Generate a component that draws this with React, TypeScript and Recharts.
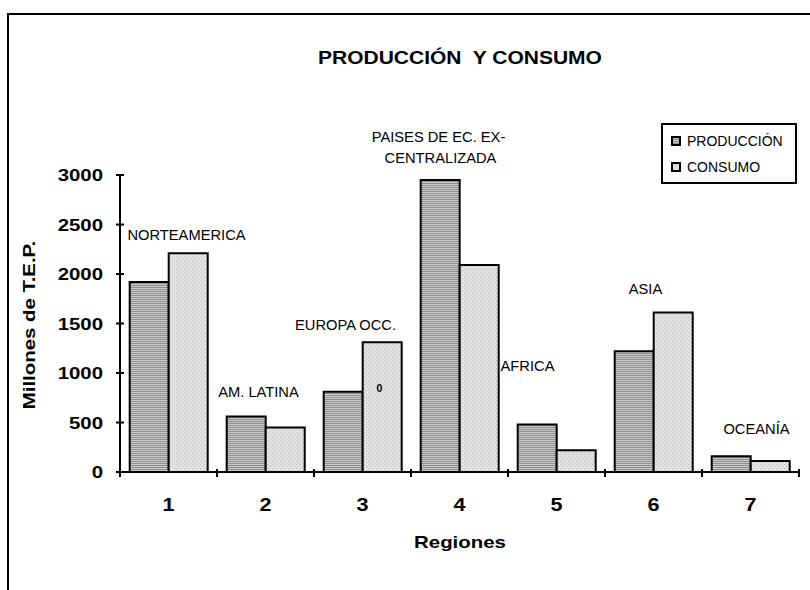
import { BarChart, Bar, XAxis, YAxis, Legend, ReferenceDot } from "recharts";

const REGIONS = ["1", "2", "3", "4", "5", "6", "7"];
const PRODUCCION = [1920, 560, 810, 2950, 480, 1220, 160];
const CONSUMO = [2210, 450, 1310, 2090, 220, 1610, 110];
const Y_TICKS = [0, 500, 1000, 1500, 2000, 2500, 3000];
const SERIES_NAMES = ["PRODUCCIÓN", "CONSUMO"];

// region notes written over the bars (text, region, height in T.E.P.)
const NOTE_TEXT = ["NORTEAMERICA", "AM. LATINA", "EUROPA OCC.", "PAISES DE EC. EX-", "CENTRALIZADA", "AFRICA", "ASIA", "OCEANÍA", "0"];
const NOTE_REGION = ["1", "2", "3", "4", "4", "5", "6", "7", "3"];
const NOTE_VALUE = [2340, 760, 1430, 3330, 3120, 1020, 1800, 385, 810];
// horizontal nudges (px) of each note from the region centre
const NOTE_DX = [18, -7, -17, -21, -19, -29, -8, 6, 17];

const data = REGIONS.map((region, i) => ({
    region,
    produccion: PRODUCCION[i],
    consumo: CONSUMO[i],
}));

const FONT = '"Liberation Sans", Arial, Helvetica, sans-serif';
const W = 810;
const H = 590;
const AXIS_X = 120;
const AXIS_Y = 472;
const RIGHT = 11;
const BAND = (W - AXIS_X - RIGHT) / REGIONS.length;
const WIDE = 1.2; // the original's bold text is drawn a bit wider than the font
const FILLS = ["url(#prodFill)", "url(#consFill)"];

const YTick = (props: any) => {
    const { y, payload } = props;
    return (
        <g>
            <line x1={AXIS_X - 4} x2={AXIS_X + 4} y1={y} y2={y} stroke="#000" strokeWidth={2} />
            <text
                transform={`translate(103,${y + 6}) scale(${WIDE},1)`}
                textAnchor="end"
                fontFamily={FONT}
                fontWeight="bold"
                fontSize={17}
                fill="#000"
            >
                {payload.value}
            </text>
        </g>
    );
};

const XTick = (props: any) => {
    const { x, payload, index } = props;
    const last = index === REGIONS.length - 1;
    return (
        <g>
            <line x1={x - BAND / 2} x2={x - BAND / 2} y1={AXIS_Y - 3} y2={AXIS_Y + 5} stroke="#000" strokeWidth={2} />
            {last && <line x1={x + BAND / 2} x2={x + BAND / 2} y1={AXIS_Y - 3} y2={AXIS_Y + 5} stroke="#000" strokeWidth={2} />}
            <text
                transform={`translate(${x},511) scale(${WIDE},1)`}
                textAnchor="middle"
                fontFamily={FONT}
                fontWeight="bold"
                fontSize={18}
                fill="#000"
            >
                {payload.value}
            </text>
        </g>
    );
};

const NoteLabel = (props: any) => {
    const { viewBox, text, dx, bold } = props;
    if (!viewBox) return null;
    const cx = viewBox.x + (viewBox.width || 0) / 2 + dx;
    const cy = viewBox.y + (viewBox.height || 0) / 2;
    return (
        <text
            transform={`translate(${cx},${cy}) scale(1.05,1)`}
            textAnchor="middle"
            fontFamily={FONT}
            fontSize={bold ? 10 : 14}
            fontWeight={bold ? "bold" : "normal"}
            fill="#000"
        >
            {text}
        </text>
    );
};

const LegendBox = () => (
    <div
        style={{
            width: 136,
            height: 61,
            boxSizing: "border-box",
            border: "2px solid #000",
            background: "#fff",
            paddingTop: 3,
            paddingLeft: 8,
            fontFamily: FONT,
            fontSize: 14,
            color: "#000",
        }}
    >
        {SERIES_NAMES.map((name, i) => (
            <div key={name} style={{ display: "flex", alignItems: "center", height: 26 }}>
                <svg width={10} height={10} style={{ marginRight: 6 }}>
                    <rect x={1} y={1} width={8} height={8} fill={FILLS[i]} stroke="#000" strokeWidth={2} />
                </svg>
                <span>{name}</span>
            </div>
        ))}
    </div>
);

export default function App() {
    return (
        <div style={{ position: "absolute", left: 0, top: 0, width: W, height: H, overflow: "hidden", background: "#fff" }}>
            <div style={{ position: "absolute", left: 7, top: 13, width: 900, height: 700, border: "2px solid #000" }} />

            <div style={{ position: "absolute", left: 0, top: 0 }}>
                <BarChart
                    width={W}
                    height={H}
                    data={data}
                    margin={{ top: 175, right: RIGHT, bottom: 78, left: 0 }}
                    barCategoryGap="10%"
                    barGap={0}
                >
                    <defs>
                        <pattern id="prodFill" width="4" height="2" patternUnits="userSpaceOnUse">
                            <rect width="4" height="2" fill="#cacaca" />
                            <rect y="1" width="4" height="1" fill="#8e8e8e" />
                        </pattern>
                        <pattern id="consFill" width="4" height="4" patternUnits="userSpaceOnUse">
                            <rect width="4" height="4" fill="#e2e2e2" />
                            <rect x="0" y="0" width="1" height="1" fill="#b8b8b8" />
                            <rect x="2" y="2" width="1" height="1" fill="#b8b8b8" />
                        </pattern>
                    </defs>
                    <XAxis
                        dataKey="region"
                        height={40}
                        interval={0}
                        axisLine={{ stroke: "#000", strokeWidth: 2 }}
                        tickLine={false}
                        tick={<XTick />}
                    />
                    <YAxis
                        domain={[0, 3000]}
                        ticks={Y_TICKS}
                        interval={0}
                        width={AXIS_X}
                        axisLine={{ stroke: "#000", strokeWidth: 2 }}
                        tickLine={false}
                        tick={<YTick />}
                    />
                    <Bar dataKey="produccion" name={SERIES_NAMES[0]} fill={FILLS[0]} stroke="#000" strokeWidth={2} isAnimationActive={false} />
                    <Bar dataKey="consumo" name={SERIES_NAMES[1]} fill={FILLS[1]} stroke="#000" strokeWidth={2} isAnimationActive={false} />
                    {NOTE_TEXT.map((text, i) => (
                        <ReferenceDot
                            key={i}
                            x={NOTE_REGION[i]}
                            y={NOTE_VALUE[i]}
                            r={0}
                            fill="none"
                            stroke="none"
                            ifOverflow="visible"
                            label={<NoteLabel text={text} dx={NOTE_DX[i]} bold={text === "0"} />}
                        />
                    ))}
                    <Legend
                        layout="vertical"
                        align="center"
                        verticalAlign="middle"
                        content={<LegendBox />}
                        wrapperStyle={{ top: 123, left: 661, width: 136, height: 61 }}
                    />
                </BarChart>
            </div>

            <div
                style={{
                    position: "absolute",
                    left: 260,
                    top: 48,
                    width: 400,
                    lineHeight: "20px",
                    textAlign: "center",
                    whiteSpace: "pre",
                    fontFamily: FONT,
                    fontWeight: "bold",
                    fontSize: 17.5,
                    transform: `scaleX(${WIDE})`,
                }}
            >
                {"PRODUCCIÓN  Y CONSUMO"}
            </div>
            <div
                style={{
                    position: "absolute",
                    left: 360,
                    top: 533,
                    width: 200,
                    lineHeight: "20px",
                    textAlign: "center",
                    fontFamily: FONT,
                    fontWeight: "bold",
                    fontSize: 17,
                    transform: `scaleX(${WIDE})`,
                }}
            >
                Regiones
            </div>
            <div
                style={{
                    position: "absolute",
                    left: -70,
                    top: 315,
                    width: 200,
                    lineHeight: "20px",
                    textAlign: "center",
                    fontFamily: FONT,
                    fontWeight: "bold",
                    fontSize: 17,
                    transform: `rotate(-90deg) scaleX(${WIDE})`,
                }}
            >
                Millones de T.E.P.
            </div>
        </div>
    );
}
